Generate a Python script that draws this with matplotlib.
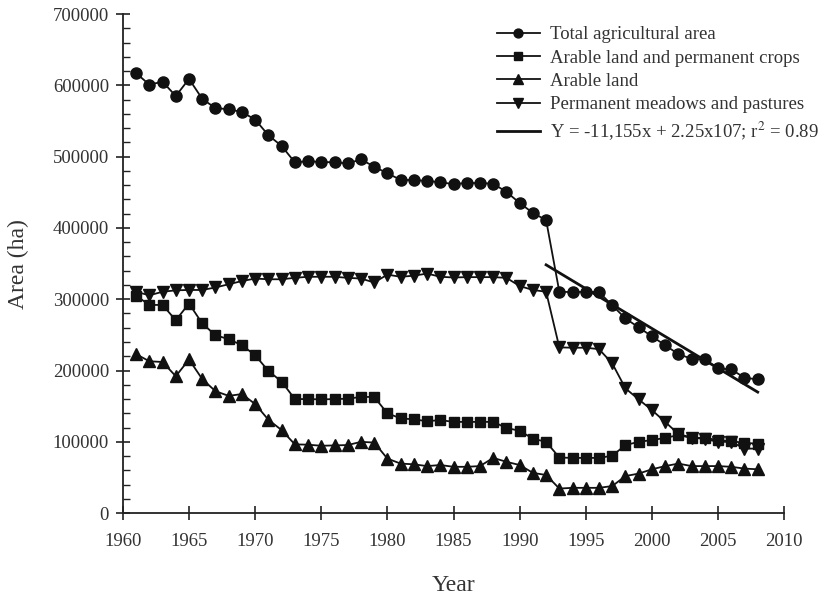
import matplotlib
matplotlib.use("Agg")
import matplotlib.pyplot as plt
import numpy as np
from matplotlib.ticker import MultipleLocator

years = list(range(1961, 2009))

total_area = [617000, 601000, 605000, 585000, 609000, 581000, 568000, 566500, 562500, 552000,
              530000, 515000, 492000, 493500, 492500, 492000, 490500, 496000, 486000, 476500,
              467500, 467000, 466000, 464000, 461500, 463000, 463000, 462000, 450500, 435000,
              421000, 411000, 310500, 310000, 310500, 310000, 291500, 273000, 260500, 248000,
              235500, 223000, 216500, 215500, 203000, 201500, 190000, 187500]

arable_perm_crops = [305000, 292000, 292000, 270500, 294000, 266000, 249500, 244000, 235500, 221500,
                     199500, 184500, 160000, 160000, 159500, 160000, 160500, 163000, 163000, 140000,
                     133000, 131500, 129000, 130500, 128000, 128000, 128000, 128000, 119500, 115500,
                     104500, 100000, 78000, 77500, 77500, 77500, 80500, 95500, 100000, 102500,
                     105500, 109500, 105500, 105500, 102500, 101000, 98500, 97500]

arable_land = [223000, 213000, 212000, 192000, 215500, 188000, 171000, 164500, 167000, 153000,
               131000, 116500, 96500, 96000, 94500, 95000, 95500, 100000, 99000, 76500,
               69500, 68500, 66000, 67500, 65000, 65000, 66000, 77500, 72000, 67500,
               56500, 53500, 34500, 35500, 35500, 35500, 38000, 52000, 55500, 61500,
               66000, 69500, 66000, 66000, 66000, 65000, 62500, 61500]

perm_meadows = [310500, 305500, 310500, 312500, 313000, 313000, 316500, 321000, 325500, 329000,
                328000, 328000, 330000, 331500, 331500, 331500, 330000, 329000, 323500, 334500,
                331500, 333000, 336000, 331500, 330500, 331000, 331000, 331000, 330000, 318500,
                313000, 310500, 232500, 232000, 232000, 230000, 210000, 175000, 159500, 144500,
                128000, 111000, 106000, 104000, 100000, 100000, 90500, 90500]

reg_slope = -11155
reg_intercept = 22569000
reg_years = [1992, 2008]

labels = ["Total agricultural area", "Arable land and permanent crops", "Arable land",
          "Permanent meadows and pastures", "Y = -11,155x + 2.25x107; r$^2$ = 0.89"]

plt.rcParams['font.family'] = ['Liberation Serif', 'DejaVu Serif']
plt.rcParams['mathtext.fontset'] = 'stix'

fig = plt.figure(figsize=(8.36, 5.96), dpi=100)
ax = fig.add_axes([0.147, 0.139, 0.791, 0.8375])

c = '#111111'
tc = '#333333'
lw = 1.3
ax.plot(years, total_area, marker='o', color=c, lw=lw, ms=8, label=labels[0])
ax.plot(years, arable_perm_crops, marker='s', color=c, lw=lw, ms=7.5, label=labels[1])
ax.plot(years, arable_land, marker='^', color=c, lw=lw, ms=8.5, label=labels[2])
ax.plot(years, perm_meadows, marker='v', color=c, lw=lw, ms=8.5, label=labels[3])
rx = np.array(reg_years, dtype=float)
ax.plot(rx, reg_slope * rx + reg_intercept, color=c, lw=2.0, label=labels[4])

ax.set_xlim(1960, 2010)
ax.set_ylim(0, 700000)
ax.xaxis.set_major_locator(MultipleLocator(5))
ax.yaxis.set_major_locator(MultipleLocator(100000))
ax.yaxis.set_minor_locator(MultipleLocator(20000))
for s in ['top', 'right']:
    ax.spines[s].set_visible(False)
for s in ['left', 'bottom']:
    ax.spines[s].set_linewidth(1.3)
    ax.spines[s].set_color('#222222')
ax.tick_params(axis='both', which='major', direction='inout', length=10, width=1.2,
               labelsize=13.5, colors='#222222', labelcolor=tc)
ax.tick_params(axis='x', which='major', pad=9)
ax.tick_params(axis='y', which='major', pad=5)
ax.tick_params(axis='y', which='minor', direction='in', length=5, width=1.0, colors='#222222')
ax.tick_params(axis='x', which='minor', bottom=False)

ax.set_xlabel('Year', fontsize=17, labelpad=18, color=tc)
ax.set_ylabel('Area (ha)', fontsize=17, labelpad=17, color=tc)

leg = ax.legend(loc='upper right', bbox_to_anchor=(1.07, 0.998), frameon=False, fontsize=13.5,
                handlelength=2.3, markerscale=0.8, labelspacing=0.33, handletextpad=0.55,
                borderaxespad=0.2)
for t in leg.get_texts():
    t.set_color(tc)

fig.savefig('out.png', dpi=100)
